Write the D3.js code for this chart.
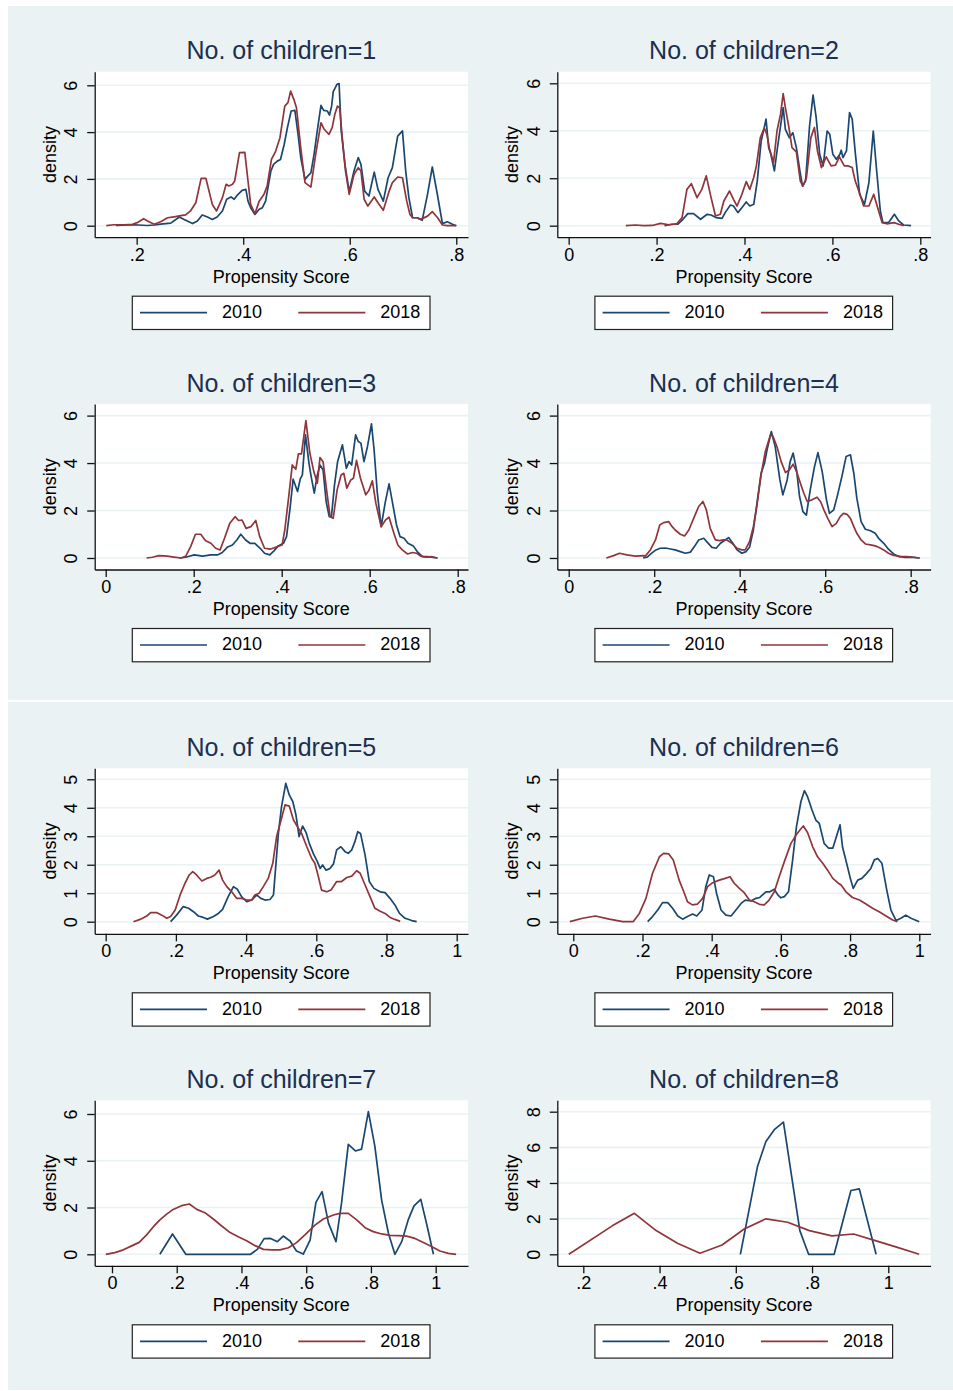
<!DOCTYPE html>
<html lang="en">
    <head>
        <meta charset="utf-8"/>
        <script src="https://d3js.org/d3.v7.min.js"></script>
        <style>
            body { margin: 0; background: #ffffff; }
            text { font-family: "Liberation Sans", Arial, sans-serif; }
        </style>
    </head>
    <body>
        <div id="chart"></div>
    </body>
    <script>
        // kernel density of propensity score, 2010 vs 2018, by number of children

        var panelTitles = ["No. of children=1", "No. of children=2", "No. of children=3", "No. of children=4",
                           "No. of children=5", "No. of children=6", "No. of children=7", "No. of children=8"];
        var seriesNames = ["2010", "2018"];
        var xTitle = "Propensity Score";
        var yTitle = "density";

        var xTicks = [
            [.2, .4, .6, .8], [0, .2, .4, .6, .8], [0, .2, .4, .6, .8], [0, .2, .4, .6, .8],
            [0, .2, .4, .6, .8, 1], [0, .2, .4, .6, .8, 1], [0, .2, .4, .6, .8, 1], [.2, .4, .6, .8, 1]
        ];
        var yTicks = [
            [0, 2, 4, 6], [0, 2, 4, 6], [0, 2, 4, 6], [0, 2, 4, 6],
            [0, 1, 2, 3, 4, 5], [0, 1, 2, 3, 4, 5], [0, 2, 4, 6], [0, 2, 4, 6, 8]
        ];

        // [score, density]
        var kd1_2010 = [[.161,.01],[.195,.04],[.220,.01],[.233,.03],[.245,.07],[.264,.11],[.280,.37],[.289,.27],[.305,.09],[.314,.2],[.323,.46],[.333,.37],[.342,.27],[.351,.37],[.361,.63],[.369,1.13],[.377,1.23],[.383,1.13],[.389,1.31],[.398,1.51],[.405,1.55],[.409,1.05],[.414,.77],[.422,.48],[.430,.7],[.436,.77],[.442,1.05],[.452,2.34],[.457,2.62],[.464,2.76],[.470,2.83],[.477,3.48],[.483,4.19],[.490,4.9],[.497,4.93],[.503,3.9],[.508,2.91],[.516,1.98],[.521,2.12],[.527,2.26],[.533,3.05],[.539,4.05],[.546,5.14],[.551,4.93],[.558,4.9],[.562,4.73],[.566,5.11],[.569,5.73],[.576,6.04],[.580,6.07],[.584,4.05],[.591,2.62],[.599,1.45],[.608,2.34],[.616,2.91],[.621,2.62],[.628,1.48],[.636,1.27],[.646,2.29],[.653,1.55],[.663,1.05],[.672,2.05],[.680,2.48],[.690,3.83],[.699,4.05],[.705,2.34],[.711,1.2],[.718,.34],[.727,.34],[.736,.23],[.746,1.34],[.755,2.51],[.765,1.27],[.774,.09],[.783,.17],[.793,.06],[.800,0]];
        var kd1_2018 = [[.143,0],[.157,.04],[.176,.04],[.192,.06],[.201,.13],[.213,.30],[.223,.17],[.233,.06],[.245,.17],[.258,.34],[.270,.38],[.283,.43],[.292,.46],[.301,.63],[.311,.98],[.321,2.02],[.330,2.02],[.342,.91],[.350,.63],[.361,1.2],[.368,1.77],[.373,1.7],[.380,1.77],[.384,1.91],[.393,3.12],[.403,3.13],[.409,1.91],[.414,.91],[.422,.51],[.430,1.05],[.439,1.34],[.445,1.7],[.453,2.83],[.461,3.19],[.469,3.76],[.478,5.11],[.484,5.26],[.489,5.75],[.495,5.4],[.500,5.04],[.508,3.33],[.516,1.84],[.527,1.65],[.536,3.05],[.546,4.4],[.552,4.12],[.561,3.9],[.567,4.19],[.572,4.76],[.577,5.11],[.581,5.04],[.586,3.76],[.592,2.34],[.599,1.34],[.608,2.19],[.616,2.48],[.621,2.34],[.627,1.13],[.634,.84],[.646,1.23],[.653,.98],[.663,.66],[.674,1.48],[.680,1.84],[.690,2.08],[.699,2.05],[.707,1.05],[.713,.48],[.718,.34],[.726,.34],[.733,.27],[.746,.41],[.755,.6],[.765,.34],[.774,.03],[.783,0],[.800,0]];

        var kd2_2010 = [[.218,0],[.235,.06],[.248,.06],[.260,.27],[.271,.51],[.284,.51],[.300,.27],[.315,.48],[.324,.45],[.335,.34],[.349,.31],[.356,.55],[.368,.87],[.375,.83],[.385,.55],[.394,.76],[.404,1.0],[.412,.83],[.421,.9],[.429,1.88],[.438,3.57],[.444,4.06],[.449,4.49],[.455,3.29],[.460,3.01],[.468,2.31],[.475,3.29],[.482,4.2],[.488,4.98],[.493,4.06],[.502,3.71],[.510,3.92],[.518,3.29],[.526,2.31],[.532,1.67],[.539,1.88],[.548,4.2],[.556,5.5],[.563,4.56],[.571,3.01],[.579,2.52],[.588,3.99],[.594,3.85],[.601,3.01],[.609,2.8],[.617,3.01],[.620,3.18],[.624,2.87],[.632,3.15],[.639,4.77],[.645,4.49],[.652,3.08],[.662,1.32],[.673,.9],[.683,1.81],[.693,3.99],[.700,2.45],[.709,.62],[.715,.13],[.728,.13],[.741,.48],[.751,.2],[.762,.03],[.779,0]];
        var kd2_2018 = [[.130,0],[.152,.03],[.171,0],[.190,.01],[.209,.1],[.228,.04],[.246,.08],[.258,.34],[.269,1.53],[.279,1.77],[.292,1.18],[.303,1.53],[.313,2.1],[.324,1.18],[.334,.41],[.345,.48],[.353,1.04],[.366,1.46],[.375,1.11],[.383,.83],[.394,1.32],[.404,1.86],[.412,1.53],[.421,2.03],[.427,2.52],[.436,3.71],[.445,4.11],[.451,3.85],[.457,3.22],[.466,2.66],[.474,4.0],[.482,4.7],[.488,5.57],[.493,4.98],[.501,4.14],[.508,3.29],[.518,3.11],[.527,1.88],[.533,1.67],[.541,2.03],[.551,3.71],[.559,4.14],[.566,3.15],[.575,2.45],[.586,2.9],[.597,2.52],[.607,2.55],[.616,2.9],[.627,2.52],[.635,2.52],[.645,2.45],[.652,1.88],[.664,1.25],[.671,.83],[.683,.83],[.694,1.32],[.703,.76],[.713,.13],[.724,.08],[.740,.13],[.751,.06],[.762,0]];

        var kd3_2010 = [[.167,0],[.182,.03],[.201,.13],[.220,.08],[.239,.13],[.254,.13],[.265,.23],[.276,.45],[.288,.55],[.298,.76],[.307,1.0],[.318,.76],[.328,.62],[.339,.62],[.351,.41],[.361,.2],[.373,.13],[.383,.31],[.392,.51],[.404,.62],[.411,.9],[.419,2.1],[.426,3.32],[.436,2.8],[.442,3.32],[.447,3.5],[.454,5.19],[.462,3.99],[.467,3.43],[.474,2.73],[.481,3.5],[.487,3.92],[.494,3.71],[.501,2.38],[.508,1.74],[.513,1.74],[.520,3.08],[.527,4.06],[.538,4.77],[.547,3.78],[.553,4.06],[.559,3.92],[.568,5.19],[.574,4.91],[.580,4.84],[.587,4.06],[.595,4.7],[.604,5.65],[.610,4.56],[.617,2.8],[.626,1.32],[.635,2.31],[.644,3.12],[.652,2.31],[.661,1.39],[.669,.9],[.678,.83],[.687,.62],[.699,.51],[.708,.27],[.720,.06],[.731,.06],[.754,0]];
        var kd3_2018 = [[.093,0],[.106,.03],[.121,.1],[.140,.08],[.155,.04],[.172,0],[.182,.08],[.193,.48],[.204,1.0],[.216,1.0],[.227,.73],[.239,.62],[.250,.41],[.260,.34],[.270,.83],[.282,1.46],[.294,1.74],[.302,1.58],[.310,1.6],[.319,1.25],[.330,1.32],[.341,1.58],[.350,.9],[.361,.41],[.374,.37],[.386,.45],[.401,.55],[.407,1.18],[.416,2.59],[.424,3.92],[.432,3.74],[.438,4.39],[.445,4.39],[.455,5.79],[.464,4.42],[.473,3.64],[.481,3.15],[.487,4.23],[.494,4.06],[.502,2.87],[.510,1.74],[.517,1.67],[.526,2.87],[.535,3.5],[.541,3.57],[.548,2.94],[.557,3.29],[.563,3.36],[.570,4.11],[.579,3.36],[.591,2.66],[.598,2.84],[.606,3.25],[.614,2.31],[.626,1.32],[.636,1.6],[.644,1.72],[.655,1.04],[.664,.55],[.674,.34],[.686,.17],[.697,.23],[.707,.2],[.716,.08],[.729,.03],[.739,.06],[.754,0]];

        var kd4_2010 = [[.174,0],[.183,.03],[.192,.17],[.204,.34],[.214,.41],[.226,.42],[.238,.38],[.249,.34],[.261,.27],[.273,.2],[.285,.25],[.294,.48],[.304,.76],[.316,.83],[.325,.65],[.335,.45],[.345,.41],[.355,.62],[.366,.76],[.374,.86],[.384,.62],[.394,.34],[.405,.2],[.415,.27],[.423,.45],[.432,1.18],[.442,2.52],[.450,3.57],[.458,3.99],[.464,4.56],[.474,5.33],[.483,4.7],[.494,3.29],[.501,2.66],[.511,3.29],[.518,4.06],[.525,4.42],[.533,3.71],[.540,2.59],[.548,1.95],[.556,1.81],[.565,2.87],[.575,3.85],[.583,4.44],[.593,3.64],[.603,2.45],[.610,1.88],[.620,2.03],[.629,2.66],[.639,3.43],[.649,4.28],[.659,4.35],[.667,3.57],[.674,2.52],[.684,1.53],[.694,1.21],[.706,1.15],[.717,1.04],[.725,.83],[.737,.62],[.748,.37],[.760,.17],[.772,.06],[.784,.03],[.799,.04],[.821,0]];
        var kd4_2018 = [[.088,0],[.105,.1],[.119,.2],[.136,.13],[.156,.08],[.175,.1],[.179,.08],[.191,.34],[.203,.76],[.213,1.39],[.222,1.49],[.234,1.53],[.242,1.32],[.249,1.18],[.261,1.0],[.271,.93],[.281,1.18],[.294,1.74],[.304,2.17],[.314,2.38],[.322,2.03],[.331,1.25],[.343,.76],[.353,.73],[.362,.76],[.370,.76],[.382,.62],[.394,.41],[.405,.34],[.413,.34],[.423,.69],[.432,1.32],[.440,2.17],[.450,3.5],[.460,4.49],[.472,5.19],[.478,5.12],[.487,4.7],[.497,4.06],[.507,3.6],[.516,3.71],[.525,3.95],[.533,3.64],[.542,3.15],[.550,2.73],[.558,2.38],[.569,2.45],[.581,2.56],[.589,2.38],[.597,2.03],[.606,1.67],[.616,1.32],[.626,1.46],[.635,1.74],[.643,1.88],[.651,1.84],[.659,1.67],[.667,1.32],[.674,1.04],[.684,.76],[.694,.59],[.706,.55],[.717,.51],[.725,.45],[.737,.34],[.748,.2],[.760,.11],[.776,.07],[.791,.06],[.807,.03],[.821,0]];

        var kd5_2010 = [[.185,0],[.202,.23],[.221,.53],[.236,.47],[.250,.35],[.264,.2],[.278,.15],[.290,.09],[.307,.18],[.321,.29],[.333,.43],[.349,.88],[.364,1.23],[.375,1.14],[.387,.88],[.402,.7],[.416,.76],[.430,.94],[.442,.82],[.454,.76],[.468,.78],[.478,.94],[.492,3.1],[.501,4.04],[.513,4.86],[.523,4.45],[.533,4.22],[.542,3.75],[.551,2.99],[.561,3.36],[.571,3.13],[.580,2.75],[.592,2.38],[.603,2.11],[.611,1.87],[.618,1.99],[.628,1.81],[.639,1.87],[.649,2.03],[.658,2.52],[.670,2.63],[.682,2.46],[.691,2.4],[.701,2.52],[.710,2.81],[.718,3.16],[.726,3.1],[.739,2.34],[.751,1.41],[.764,1.17],[.782,1.05],[.796,1.02],[.810,.82],[.824,.59],[.837,.29],[.853,.12],[.872,.04],[.886,0]];
        var kd5_2018 = [[.079,0],[.098,.08],[.117,.2],[.128,.32],[.145,.32],[.160,.23],[.174,.12],[.185,.18],[.198,.41],[.212,.94],[.226,1.35],[.238,1.64],[.248,1.76],[.259,1.64],[.274,1.43],[.288,1.52],[.299,1.56],[.311,1.64],[.323,1.81],[.333,1.46],[.345,1.23],[.359,1.05],[.373,.82],[.387,.82],[.402,.76],[.416,.76],[.425,.94],[.437,1.0],[.449,1.23],[.463,1.52],[.476,2.05],[.487,2.99],[.501,3.63],[.511,4.1],[.523,4.06],[.535,3.57],[.546,3.34],[.558,3.1],[.573,2.63],[.587,2.22],[.596,2.05],[.606,1.58],[.615,1.11],[.630,1.05],[.642,1.11],[.658,1.41],[.672,1.41],[.687,1.55],[.701,1.6],[.715,1.79],[.725,1.7],[.739,1.29],[.753,.88],[.767,.47],[.782,.37],[.796,.29],[.810,.15],[.824,.08],[.839,.01]];

        var kd6_2010 = [[.215,0],[.229,.18],[.244,.41],[.258,.67],[.273,.67],[.287,.47],[.302,.2],[.316,.09],[.330,.18],[.345,.27],[.357,.2],[.372,.41],[.383,1.23],[.393,1.64],[.405,1.58],[.414,1.0],[.427,.41],[.441,.23],[.456,.2],[.470,.41],[.485,.64],[.497,.76],[.514,.73],[.528,.82],[.539,.85],[.547,.94],[.557,1.05],[.568,1.05],[.581,1.14],[.591,.94],[.600,.84],[.610,.88],[.622,1.05],[.634,2.17],[.645,3.34],[.658,4.22],[.668,4.6],[.677,4.39],[.690,3.92],[.701,3.57],[.711,3.45],[.725,2.75],[.738,2.58],[.750,2.58],[.759,2.93],[.771,3.4],[.778,2.63],[.790,2.05],[.802,1.46],[.809,1.17],[.822,1.46],[.834,1.52],[.846,1.67],[.860,1.87],[.870,2.17],[.880,2.22],[.892,2.05],[.906,1.11],[.918,.41],[.933,.04],[.947,.12],[.961,.23],[.976,.12],[1.0,0]];
        var kd6_2018 = [[-.010,0],[.027,.12],[.064,.2],[.104,.09],[.143,0],[.173,0],[.191,.29],[.210,.82],[.229,1.7],[.249,2.28],[.261,2.4],[.276,2.38],[.289,2.17],[.306,1.46],[.321,1.0],[.330,.7],[.344,.59],[.359,.62],[.374,.82],[.388,1.23],[.403,1.37],[.422,1.46],[.439,1.52],[.453,1.58],[.465,1.35],[.480,1.17],[.494,1.02],[.509,.76],[.523,.7],[.538,.61],[.552,.59],[.566,.76],[.581,1.05],[.595,1.58],[.610,2.11],[.629,2.75],[.644,3.04],[.655,3.22],[.665,3.36],[.677,3.13],[.692,2.63],[.706,2.28],[.721,2.05],[.735,1.81],[.750,1.52],[.764,1.37],[.774,1.29],[.788,1.05],[.807,.85],[.827,.76],[.846,.62],[.865,.47],[.884,.35],[.904,.2],[.923,.06],[.937,0]];

        var kd7_2010 = [[.148,0],[.187,.87],[.228,0],[.428,0],[.449,.21],[.470,.67],[.490,.68],[.511,.54],[.529,.78],[.550,.57],[.570,.14],[.591,.01],[.612,.61],[.630,2.22],[.649,2.68],[.669,1.32],[.692,.54],[.709,2.18],[.730,4.7],[.752,4.42],[.771,4.5],[.792,6.1],[.812,4.63],[.833,2.32],[.854,.9],[.874,0],[.895,.54],[.915,1.47],[.933,2.07],[.954,2.35],[.974,1.18],[.993,0]];
        var kd7_2018 = [[-.019,0],[.009,.07],[.035,.19],[.061,.36],[.084,.51],[.107,.83],[.128,1.18],[.148,1.47],[.169,1.72],[.189,1.92],[.215,2.08],[.239,2.15],[.262,1.92],[.287,1.78],[.313,1.51],[.339,1.21],[.365,.93],[.390,.75],[.416,.58],[.442,.37],[.468,.21],[.493,.19],[.519,.19],[.545,.28],[.570,.5],[.596,.83],[.627,1.25],[.653,1.51],[.684,1.68],[.704,1.75],[.730,1.75],[.756,1.47],[.782,1.14],[.807,.97],[.833,.87],[.859,.81],[.885,.8],[.910,.78],[.936,.68],[.962,.5],[.987,.33],[1.013,.14],[1.039,.04],[1.063,0]];

        var kd8_2010 = [[.612,0],[.657,4.93],[.679,6.33],[.701,6.99],[.725,7.42],[.768,1.33],[.791,0],[.858,0],[.902,3.58],[.924,3.67],[.968,0]];
        var kd8_2018 = [[.162,0],[.277,1.61],[.334,2.3],[.391,1.33],[.447,.62],[.506,.06],[.564,.52],[.622,1.42],[.679,1.99],[.736,1.8],[.793,1.33],[.852,1.03],[.909,1.14],[.966,.77],[1.024,.39],[1.081,0]];

        var series2010 = [kd1_2010, kd2_2010, kd3_2010, kd4_2010, kd5_2010, kd6_2010, kd7_2010, kd8_2010];
        var series2018 = [kd1_2018, kd2_2018, kd3_2018, kd4_2018, kd5_2018, kd6_2018, kd7_2018, kd8_2018];

        // axis ranges per panel (as Stata padded them)
        var xDomains = [[.1212, .822], [-.0259, .8234], [-.025, .8234], [-.0267, .8466],
                        [-.0313, 1.0322], [-.0462, 1.0327], [-.0534, 1.0998], [.1318, 1.111]];
        var yDomains = [[-.491, 6.581], [-.485, 6.489], [-.485, 6.489], [-.485, 6.489],
                        [-.425, 5.386], [-.425, 5.386], [-.492, 6.586], [-.645, 8.639]];

        // layout
        var colLeft = [94.7, 557.3];
        var rowTop = [71.7, 404, 768.3, 1100.3];
        var plotW = 373.3, plotH = 165.5;
        var colors = ["#1a476f", "#90353b"];
        var bgColor = "#eaf2f3";

        var svg = d3.select("#chart")
            .append("svg")
                .attr("width", 953)
                .attr("height", 1391)

        // two graph regions (top and bottom figure)
        svg.append("rect").attr("x", 8).attr("y", 6).attr("width", 945).attr("height", 694).attr("fill", bgColor)
        svg.append("rect").attr("x", 8).attr("y", 702).attr("width", 945).attr("height", 688).attr("fill", bgColor)

        var fmt = function (d) { return d === 0 ? "0" : String(d).replace(/^0\./, "."); };

        panelTitles.forEach(function (title, i) {
            var left = colLeft[i % 2];
            var top = rowTop[Math.floor(i / 2)];

            var g = svg.append("g")
                .attr("transform", "translate(" + left + "," + top + ")")

            var x = d3.scaleLinear().domain(xDomains[i]).range([0, plotW])
            var y = d3.scaleLinear().domain(yDomains[i]).range([plotH, 0])

            g.append("rect")
                .attr("width", plotW)
                .attr("height", plotH)
                .attr("fill", "white")

            g.append("g")
                .selectAll("line")
                .data(yTicks[i])
                .enter()
                .append("line")
                .attr("x1", 0)
                .attr("x2", plotW)
                .attr("y1", function (d) { return y(d); })
                .attr("y2", function (d) { return y(d); })
                .attr("stroke", bgColor)
                .attr("stroke-width", 1.6)

            var line = d3.line()
                .x(function (d) { return x(d[0]); })
                .y(function (d) { return y(d[1]); })

            g.append("path")
                .datum(series2010[i])
                .attr("d", line)
                .attr("fill", "none")
                .attr("stroke", colors[0])
                .attr("stroke-width", 1.7)
                .attr("stroke-linejoin", "round")

            g.append("path")
                .datum(series2018[i])
                .attr("d", line)
                .attr("fill", "none")
                .attr("stroke", colors[1])
                .attr("stroke-width", 1.7)
                .attr("stroke-linejoin", "round")

            var xAxis = g.append("g")
                .attr("transform", "translate(0," + plotH + ")")
                .call(d3.axisBottom(x).tickValues(xTicks[i]).tickFormat(fmt).tickSize(7.5).tickSizeOuter(0))
            xAxis.selectAll("text")
                .attr("y", 23.4)
                .attr("dy", 0)
                .style("font-size", "18px")
                .attr("fill", "#000")

            var yAxis = g.append("g")
                .call(d3.axisLeft(y).tickValues(yTicks[i]).tickFormat(fmt).tickSize(7.5).tickSizeOuter(0))
            yAxis.selectAll("text")
                .attr("x", 0)
                .attr("dy", 0)
                .attr("text-anchor", "middle")
                .attr("transform", "translate(-17.7,0) rotate(-90)")
                .style("font-size", "18px")
                .attr("fill", "#000")

            svg.selectAll(".domain, .tick line")
                .attr("stroke", "#111")
                .attr("stroke-width", 1.3)

            g.append("text")
                .attr("x", plotW / 2)
                .attr("y", -12.4)
                .attr("text-anchor", "middle")
                .style("font-size", "25px")
                .attr("fill", "#1c2f50")
                .text(title)

            g.append("text")
                .attr("x", plotW / 2)
                .attr("y", plotH + 45.4)
                .attr("text-anchor", "middle")
                .style("font-size", "18px")
                .attr("fill", "#000")
                .text(xTitle)

            g.append("text")
                .attr("transform", "translate(-39," + (plotH / 2) + ") rotate(-90)")
                .attr("text-anchor", "middle")
                .style("font-size", "18px")
                .attr("fill", "#000")
                .text(yTitle)

            // legend
            var lg = g.append("g")
                .attr("transform", "translate(37.6," + (plotH + 59) + ")")
            lg.append("rect")
                .attr("width", 297.7)
                .attr("height", 33.3)
                .attr("fill", "white")
                .attr("stroke", "#222")
                .attr("stroke-width", 1.2)
            seriesNames.forEach(function (name, k) {
                lg.append("line")
                    .attr("x1", 7.7 + k * 158.3)
                    .attr("x2", 74.7 + k * 158.3)
                    .attr("y1", 16.5)
                    .attr("y2", 16.5)
                    .attr("stroke", colors[k])
                    .attr("stroke-width", 1.7)
                lg.append("text")
                    .attr("x", 89.7 + k * 158.3)
                    .attr("y", 21.8)
                    .style("font-size", "18px")
                    .attr("fill", "#000")
                    .text(name)
            });
        });
    </script>
</html>
